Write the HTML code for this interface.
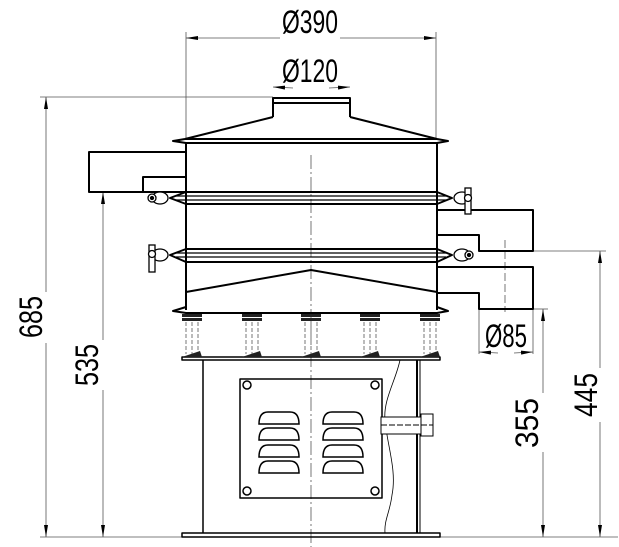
<!DOCTYPE html>
<html><head><meta charset="utf-8"><style>html,body{margin:0;padding:0;background:#fff}svg{display:block}</style></head>
<body>
<svg width="619" height="547" viewBox="0 0 619 547" xmlns="http://www.w3.org/2000/svg" font-family="Liberation Sans, sans-serif">
<defs>
<marker id="a" viewBox="0 0 12 4" refX="12" refY="2" markerWidth="12" markerHeight="4" orient="auto-start-reverse" markerUnits="userSpaceOnUse"><path d="M0,0 L12,2 L0,4 z" fill="#000"/></marker>
</defs>
<g stroke="#555" stroke-width="0.8" fill="none">
<line x1="186" y1="32" x2="186" y2="140"/>
<line x1="436" y1="32" x2="436" y2="140"/>
<line x1="40" y1="97" x2="273" y2="97"/>
<line x1="40" y1="537" x2="618" y2="537"/>
<line x1="90" y1="192" x2="143" y2="192"/>
<line x1="533" y1="251" x2="606" y2="251"/>
<line x1="533" y1="309" x2="548" y2="309"/>
<line x1="479" y1="309" x2="479" y2="354"/>
<line x1="533" y1="309" x2="533" y2="354"/>
<line x1="186" y1="38" x2="280" y2="38" marker-start="url(#a)"/>
<line x1="340" y1="38" x2="436" y2="38" marker-end="url(#a)"/>
<line x1="273" y1="87" x2="293" y2="88" marker-start="url(#a)"/>
<line x1="329" y1="88" x2="350" y2="87" marker-end="url(#a)"/>
<line x1="46" y1="97" x2="46" y2="292" marker-start="url(#a)"/>
<line x1="46" y1="343" x2="46" y2="537" marker-end="url(#a)"/>
<line x1="103" y1="192" x2="103" y2="340" marker-start="url(#a)"/>
<line x1="103" y1="390" x2="103" y2="537" marker-end="url(#a)"/>
<line x1="543" y1="309" x2="543" y2="393" marker-start="url(#a)"/>
<line x1="543" y1="452" x2="543" y2="537" marker-end="url(#a)"/>
<line x1="600" y1="251" x2="600" y2="368" marker-start="url(#a)"/>
<line x1="600" y1="422" x2="600" y2="537" marker-end="url(#a)"/>
<line x1="479" y1="352" x2="498" y2="353" marker-start="url(#a)"/>
<line x1="514" y1="353" x2="533" y2="352" marker-end="url(#a)"/>
<line x1="311" y1="155" x2="311" y2="547" stroke-dasharray="14,3,2,3"/>
<line x1="505" y1="240" x2="505" y2="312" stroke-dasharray="8,3"/>
</g>
<g fill="#000" font-size="32">
<text x="310" y="33" text-anchor="middle" textLength="56" lengthAdjust="spacingAndGlyphs">Ø390</text>
<text x="310" y="82" text-anchor="middle" textLength="56" lengthAdjust="spacingAndGlyphs">Ø120</text>
<text x="506" y="347" text-anchor="middle" textLength="42" lengthAdjust="spacingAndGlyphs">Ø85</text>
<text transform="translate(42,317) rotate(-90)" text-anchor="middle" textLength="42" lengthAdjust="spacingAndGlyphs">685</text>
<text transform="translate(98,365) rotate(-90)" text-anchor="middle" textLength="42" lengthAdjust="spacingAndGlyphs">535</text>
<text transform="translate(538,423) rotate(-90)" text-anchor="middle" textLength="50" lengthAdjust="spacingAndGlyphs">355</text>
<text transform="translate(597,395) rotate(-90)" text-anchor="middle" textLength="44" lengthAdjust="spacingAndGlyphs">445</text>
</g>
<g stroke="#000" stroke-width="2" fill="none" stroke-linejoin="round">
<rect x="273" y="98" width="77" height="5"/>
<line x1="273" y1="103" x2="273" y2="117"/><line x1="350" y1="103" x2="350" y2="117"/>
<path d="M273,117 L185,139 L173,141 L186,143 L437,143 L448,141 L437,139 L350,117"/>
<line x1="185" y1="139" x2="437" y2="139"/>
<line x1="186" y1="143" x2="186" y2="310"/>
<line x1="437" y1="143" x2="437" y2="310"/>
<path d="M186,152 L89,152 L89,192 L186,192"/>
<path d="M143,192 L143,177 L186,177"/>
<path d="M437,210 L533,210 L533,251 L479,251 L479,235 L437,235"/>
<path d="M437,267 L533,267 L533,309 L479,309 L479,293 L437,293"/>
<path d="M186,192 L437,192 L452,198 L437,204 L186,204 L170,198 Z"/>
<line x1="176" y1="196" x2="446" y2="196" stroke-width="1.2"/>
<line x1="176" y1="200" x2="446" y2="200" stroke-width="1.2"/>
<path d="M186,249 L437,249 L452,255 L437,262 L186,262 L170,255 Z"/>
<line x1="176" y1="253" x2="446" y2="253" stroke-width="1.2"/>
<line x1="176" y1="257" x2="446" y2="257" stroke-width="1.2"/>
<path d="M186,292 L311,270 L437,292"/>
<path d="M186,307 L173,311 L186,313 L437,313 L448,311 L437,307"/>
<rect x="182" y="357" width="258" height="3" stroke-width="1.5"/>
<rect x="182" y="533" width="258" height="4" stroke-width="1.5"/>
<line x1="203" y1="360" x2="203" y2="533" stroke-width="1.5"/>
<line x1="417" y1="360" x2="417" y2="533"/>
<line x1="420" y1="360" x2="420" y2="533" stroke-width="1"/>
<rect x="240" y="379" width="142" height="119" stroke-width="1.5"/>
</g>
<g stroke="#000" stroke-width="1.3" fill="#fff">
<ellipse cx="160" cy="198" rx="8" ry="6"/><circle cx="152" cy="198" r="4"/><circle cx="152" cy="198" r="1.5" fill="#000"/>
<ellipse cx="462" cy="198" rx="8" ry="6"/><rect x="465" y="188" width="6" height="26"/><circle cx="468" cy="198" r="3.5"/>
<ellipse cx="160" cy="255" rx="8" ry="6"/><rect x="149" y="245" width="6" height="27"/><circle cx="152" cy="254" r="3.5"/>
<ellipse cx="462" cy="255" rx="8" ry="6"/><circle cx="469" cy="255" r="4"/><circle cx="469" cy="255" r="1.5" fill="#000"/>
</g>
<g>
<g id="sp">
<rect x="182" y="314" width="20" height="3" fill="#222"/>
<rect x="182" y="318" width="20" height="3" fill="#222"/>
<line x1="186" y1="322" x2="186" y2="354" stroke="#777" stroke-dasharray="4,2"/>
<line x1="192" y1="322" x2="192" y2="354" stroke="#777" stroke-dasharray="4,2"/>
<line x1="198" y1="322" x2="198" y2="354" stroke="#777" stroke-dasharray="4,2"/>
<path d="M182,357 L200,351 L202,357 Z" fill="#222"/>
</g>
<use href="#sp" x="60"/><use href="#sp" x="119"/><use href="#sp" x="178"/><use href="#sp" x="238"/>
</g>
<g stroke="#000" stroke-width="1.5" fill="#fff">
<circle cx="247" cy="385" r="4"/><circle cx="375" cy="385" r="4"/><circle cx="247" cy="491" r="4"/><circle cx="375" cy="491" r="4"/>
</g>
<g stroke="#000" stroke-width="1.5" fill="none">
<g id="lv"><path d="M259,424 L299,424 Q299,412 290,412 L268,412 Q259,412 259,424 Z"/>
<path d="M259,440 L299,440 Q299,428 290,428 L268,428 Q259,428 259,440 Z"/>
<path d="M259,457 L299,457 Q299,445 290,445 L268,445 Q259,445 259,457 Z"/>
<path d="M259,473 L299,473 Q299,461 290,461 L268,461 Q259,461 259,473 Z"/></g>
<use href="#lv" x="64"/>
</g>
<path d="M400,360 C396,380 383,400 385,420 C387,445 397,470 392,495 C390,512 384,520 385,533" stroke="#000" stroke-width="0.8" fill="none"/>
<g stroke="#000" stroke-width="1" fill="#fff">
<rect x="381" y="417" width="40" height="17"/>
<rect x="421" y="414" width="12" height="22"/>
<line x1="381" y1="425" x2="433" y2="425" stroke-dasharray="6,2"/>
</g>
</svg>
</body></html>
